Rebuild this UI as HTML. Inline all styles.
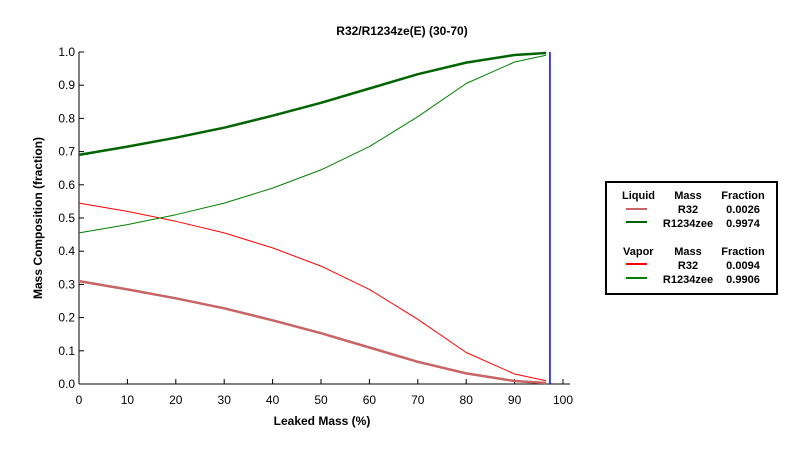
<!DOCTYPE html>
<html><head><meta charset="utf-8"><style>
body{margin:0;background:#fff;font-family:"Liberation Sans",sans-serif;}
svg text{font-family:"Liberation Sans",sans-serif;}
</style></head><body>
<svg width="806" height="447" xmlns="http://www.w3.org/2000/svg">
<rect width="806" height="447" fill="#fff"/>
<text x="402" y="35" text-anchor="middle" font-size="12" font-weight="bold">R32/R1234ze(E) (30-70)</text>
<g id="axes"></g>
<g id="series"></g>
<text x="322" y="425" text-anchor="middle" font-size="12" font-weight="bold">Leaked Mass (%)</text>
<text transform="translate(42,218) rotate(-90)" text-anchor="middle" font-size="12" font-weight="bold">Mass Composition (fraction)</text>
<g>
<rect x="606" y="182" width="171" height="112" fill="#fff" stroke="#000" stroke-width="2"/>
<g font-size="11" font-weight="bold">
<text x="622" y="199">Liquid</text><text x="688" y="199" text-anchor="middle">Mass</text><text x="743" y="199" text-anchor="middle">Fraction</text>
<line x1="626" y1="209" x2="647" y2="209" stroke="#c86464" stroke-width="2"/><text x="688" y="213" text-anchor="middle">R32</text><text x="743" y="213" text-anchor="middle">0.0026</text>
<line x1="626" y1="222" x2="647" y2="222" stroke="#006400" stroke-width="2"/><text x="688" y="227" text-anchor="middle">R1234zee</text><text x="743" y="227" text-anchor="middle">0.9974</text>
<text x="623" y="255">Vapor</text><text x="688" y="255" text-anchor="middle">Mass</text><text x="743" y="255" text-anchor="middle">Fraction</text>
<line x1="626" y1="264" x2="647" y2="264" stroke="#ff0000" stroke-width="2"/><text x="688" y="269" text-anchor="middle">R32</text><text x="743" y="269" text-anchor="middle">0.0094</text>
<line x1="626" y1="278" x2="647" y2="278" stroke="#008000" stroke-width="2"/><text x="688" y="283" text-anchor="middle">R1234zee</text><text x="743" y="283" text-anchor="middle">0.9906</text>
</g></g>
</svg>
<script>
const xs=[0,10,20,30,40,50,60,70,80,90,96.5];
const liqR32=[0.31,0.285,0.258,0.228,0.192,0.153,0.11,0.067,0.032,0.009,0.003];
const liqR1234=[0.69,0.715,0.742,0.772,0.808,0.847,0.89,0.933,0.968,0.991,0.997];
const vapR32=[0.545,0.52,0.49,0.455,0.41,0.355,0.285,0.195,0.095,0.03,0.01];
const vapR1234=[0.455,0.48,0.51,0.545,0.59,0.645,0.715,0.805,0.905,0.97,0.99];
const xTicks=[0,10,20,30,40,50,60,70,80,90,100];
const yTicks=[0,0.1,0.2,0.3,0.4,0.5,0.6,0.7,0.8,0.9,1.0];
const leakLimit=97.3;
const NS="http://www.w3.org/2000/svg";
const X=v=>79+v*4.84, Y=v=>384-v*332;
function mk(t,a,p){const e=document.createElementNS(NS,t);for(const k in a)e.setAttribute(k,a[k]);p.appendChild(e);return e;}
const ax=document.getElementById('axes');
let l=mk('line',{x1:79,y1:52,x2:79,y2:384,stroke:'#000','stroke-width':1},ax);


l=mk('line',{x1:79,y1:384,x2:570,y2:384,stroke:'#000','stroke-width':1},ax);


xTicks.forEach(t=>{mk('line',{x1:X(t),y1:384,x2:X(t),y2:379,stroke:'#000'},ax);
const tx=mk('text',{x:X(t),y:404,'text-anchor':'middle','font-size':12},ax);tx.textContent=t;

});
yTicks.forEach(t=>{mk('line',{x1:79,y1:Y(t),x2:84,y2:Y(t),stroke:'#000'},ax);
const tx=mk('text',{x:75,y:Y(t)+4,'text-anchor':'end','font-size':12},ax);tx.textContent=t.toFixed(1);

});
const sg=document.getElementById('series');
function path(arr,col,w,name){let d='';
for(let i=0;i<xs.length;i++){d+=(i?'L':'M')+X(xs[i]).toFixed(1)+','+Y(arr[i]).toFixed(1);}
const p=mk('path',{d:d,fill:'none',stroke:col,'stroke-width':w,'stroke-linejoin':'round'},sg);

}
path(liqR32,'#c86464',2.5,'liquid-r32-line');
path(liqR1234,'#006400',2.5,'liquid-r1234zee-line');
path(vapR32,'#ff0000',1,'vapor-r32-line');
path(vapR1234,'#008000',1,'vapor-r1234zee-line');
const bl=mk('line',{x1:X(leakLimit),y1:52,x2:X(leakLimit),y2:384,stroke:'#0000ff','stroke-width':1.5},sg);


</script>
</body></html>
